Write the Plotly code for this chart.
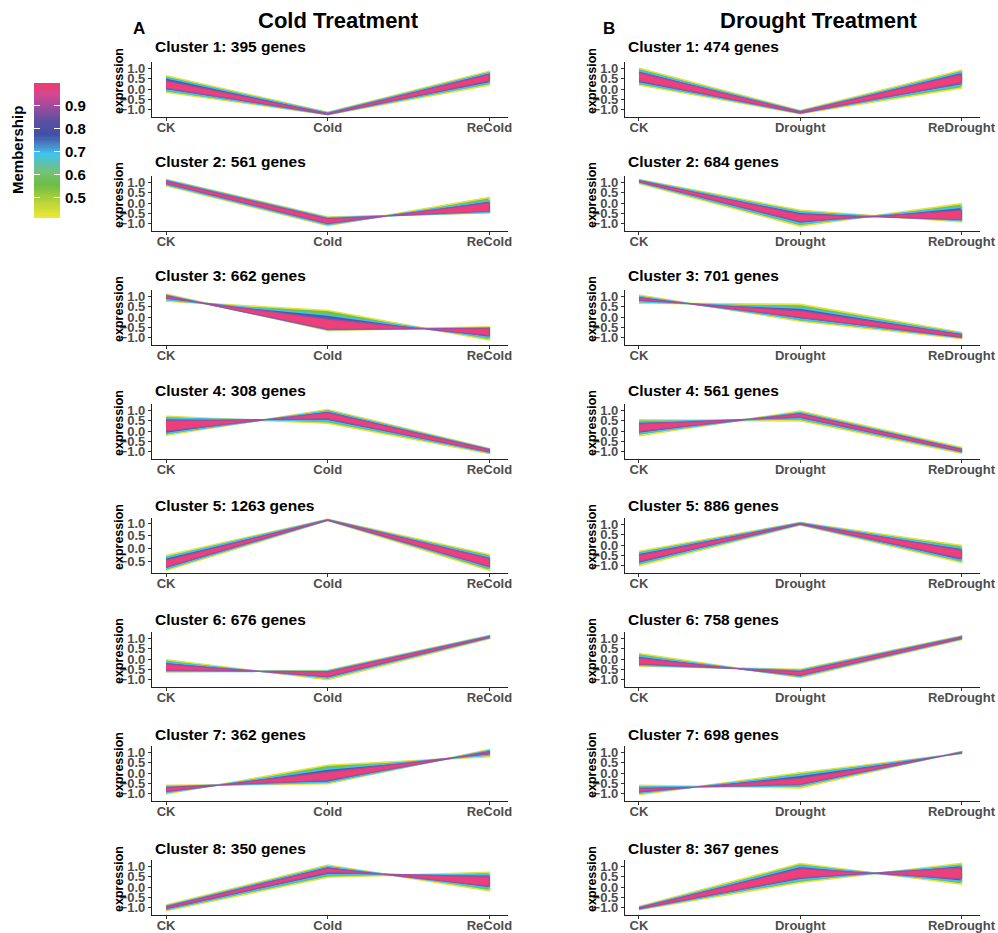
import plotly.graph_objects as go
import numpy as np

W, H = 998, 933

# ---------------- data ----------------
cold_stages = ["CK", "Cold", "ReCold"]
drought_stages = ["CK", "Drought", "ReDrought"]

cold_titles = ["Cluster 1: 395 genes", "Cluster 2: 561 genes", "Cluster 3: 662 genes",
               "Cluster 4: 308 genes", "Cluster 5: 1263 genes", "Cluster 6: 676 genes",
               "Cluster 7: 362 genes", "Cluster 8: 350 genes"]
drought_titles = ["Cluster 1: 474 genes", "Cluster 2: 684 genes", "Cluster 3: 701 genes",
                  "Cluster 4: 561 genes", "Cluster 5: 886 genes", "Cluster 6: 758 genes",
                  "Cluster 7: 698 genes", "Cluster 8: 367 genes"]

# boundary profiles (two extreme gene lines) per membership level: (lineA, lineB)
# levels: outer ~0.5, mid ~0.7, core ~0.95
cold_outer = [
    ([0.65, -1.13, 0.87], [-0.15, -1.25, 0.20]),
    ([1.15, -0.68, -0.48], [0.85, -1.10, 0.28]),
    ([1.12, -0.65, -0.48], [0.78, 0.32, -1.12]),
    ([-0.20, 1.05, -0.85], [0.72, 0.38, -1.10]),
    ([-0.27, 1.15, -0.23], [-0.85, 1.10, -0.85]),
    ([-0.62, -0.55, 1.15], [-0.03, -1.00, 1.00]),
    ([-0.60, -0.52, 1.15], [-1.02, 0.38, 0.80]),
    ([-0.88, 1.07, -0.18], [-1.15, 0.48, 0.72]),
]
cold_mid = [
    ([0.55, -1.15, 0.80], [-0.05, -1.24, 0.30]),
    ([1.12, -0.72, -0.45], [0.90, -1.05, 0.12]),
    ([1.08, -0.62, -0.52], [0.85, 0.10, -1.00]),
    ([-0.12, 0.98, -0.88], [0.62, 0.50, -1.05]),
    ([-0.35, 1.14, -0.32], [-0.78, 1.11, -0.75]),
    ([-0.60, -0.58, 1.13], [-0.15, -0.92, 1.03]),
    ([-0.65, -0.45, 1.10], [-0.95, 0.20, 0.88]),
    ([-0.92, 1.00, -0.05], [-1.10, 0.60, 0.60]),
]
cold_core = [
    ([0.40, -1.18, 0.72], [0.05, -1.23, 0.40]),
    ([1.08, -0.76, -0.40], [0.95, -1.00, 0.02]),
    ([1.05, -0.60, -0.55], [0.92, -0.10, -0.90]),
    ([0.00, 0.90, -0.90], [0.50, 0.60, -1.02]),
    ([-0.45, 1.13, -0.38], [-0.72, 1.12, -0.70]),
    ([-0.55, -0.62, 1.10], [-0.25, -0.85, 1.05]),
    ([-0.70, -0.35, 1.05], [-0.90, 0.05, 0.95]),
    ([-0.95, 0.92, 0.05], [-1.05, 0.70, 0.50]),
]

drought_outer = [
    ([1.02, -1.05, 0.92], [0.20, -1.20, 0.05]),
    ([1.15, -0.35, -0.92], [0.95, -1.12, -0.03]),
    ([1.08, -0.20, -1.05], [0.68, 0.62, -0.75]),
    ([-0.22, 0.97, -0.80], [0.55, 0.50, -1.08]),
    ([-0.30, 1.10, -0.02], [-1.00, 0.98, -0.85]),
    ([-0.35, -0.50, 1.12], [0.27, -0.90, 0.95]),
    ([-0.60, -0.72, 1.05], [-1.05, 0.02, 0.95]),
    ([-1.10, 0.22, 1.15], [-0.95, 1.15, 0.15]),
]
drought_mid = [
    ([0.90, -1.08, 0.82], [0.30, -1.18, 0.20]),
    ([1.12, -0.45, -0.85], [1.00, -1.00, -0.20]),
    ([1.00, -0.10, -1.00], [0.75, 0.45, -0.80]),
    ([-0.12, 0.90, -0.85], [0.45, 0.60, -1.02]),
    ([-0.40, 1.08, -0.15], [-0.90, 1.00, -0.75]),
    ([-0.30, -0.55, 1.10], [0.15, -0.85, 0.98]),
    ([-0.68, -0.62, 1.03], [-0.98, -0.10, 0.97]),
    ([-1.08, 0.35, 1.05], [-0.98, 1.02, 0.28]),
]
drought_core = [
    ([0.80, -1.10, 0.72], [0.40, -1.17, 0.30]),
    ([1.10, -0.55, -0.80], [1.03, -0.90, -0.35]),
    ([0.95, 0.00, -0.98], [0.82, 0.30, -0.85]),
    ([-0.02, 0.85, -0.88], [0.35, 0.68, -1.00]),
    ([-0.50, 1.06, -0.25], [-0.80, 1.02, -0.65]),
    ([-0.25, -0.60, 1.08], [0.05, -0.80, 1.00]),
    ([-0.75, -0.55, 1.02], [-0.92, -0.25, 0.98]),
    ([-1.06, 0.45, 0.95], [-1.00, 0.90, 0.40]),
]

membership_ticks = [0.5, 0.6, 0.7, 0.8, 0.9]
membership_range = [0.41, 1.0]

# ---------------- styling ----------------
colorscale = [
    [0.00, "#F2EA35"], [0.15, "#A9CF3A"], [0.25, "#6CBD45"], [0.35, "#74C17A"],
    [0.48, "#3EC3EF"], [0.55, "#4A80C4"], [0.62, "#3F51A3"], [0.72, "#5C4FA1"],
    [0.83, "#9E4C9D"], [0.92, "#D44890"], [1.00, "#EF3A6E"],
]
level_styles = [
    dict(fill="#72C044", line="#E4E23A", width=1.6),   # outer
    dict(fill="#4060AE", line="#3EC3EF", width=1.6),   # mid
    dict(fill="#EE3F7A", line="#A24D9D", width=1.2),   # core
]

FONT = "Liberation Sans, Arial, sans-serif"
TICKGREY = "#4D4D4D"
MINUS = "\u2212"

def px_x(x):
    return x / W

def px_y(y):
    return 1 - y / H

panel_pitch = 114.0
text_pitch = 114.5
panel_top0, panel_h = 62, 55
col_x = [(152, 508), (625, 980)]
xrange = [-0.0867, 2.115]

yranges_cold = [[-1.36, 1.32]] * 4 + [[-0.95, 1.2]] + [[-1.36, 1.32]] * 3
yranges_drought = [[-1.36, 1.32]] * 8
ytickvals = [-1.0, -0.5, 0.0, 0.5, 1.0]
yticktext = [f"{v:.1f}".replace("-", MINUS) for v in ytickvals]

fig = go.Figure()
annotations = []
layout_axes = {}

columns = [
    (cold_stages, cold_titles, [cold_outer, cold_mid, cold_core], yranges_cold),
    (drought_stages, drought_titles, [drought_outer, drought_mid, drought_core], yranges_drought),
]

idx = 0
for c, (stages, titles, levels, yranges) in enumerate(columns):
    x0p, x1p = col_x[c]
    for r in range(8):
        idx += 1
        xa = "x" if idx == 1 else f"x{idx}"
        ya = "y" if idx == 1 else f"y{idx}"
        top = panel_top0 + r * panel_pitch
        bot = top + panel_h
        xs = list(range(len(stages)))
        for lv, st in zip(levels, level_styles):
            A, B = lv[r]
            fig.add_trace(go.Scatter(
                x=xs + xs[::-1], y=A + B[::-1], mode="lines", fill="toself",
                fillcolor=st["fill"], line=dict(color=st["line"], width=st["width"]),
                xaxis=xa, yaxis=ya, hoverinfo="skip", showlegend=False))
        axis_common = dict(showgrid=False, zeroline=False, showline=True, linecolor="#222222",
                           linewidth=1.3, ticks="outside", ticklen=3, tickcolor="#333333",
                           automargin=False,
                           tickfont=dict(family=FONT, size=13, color=TICKGREY, weight="bold"))
        layout_axes["xaxis" if idx == 1 else f"xaxis{idx}"] = dict(
            domain=[px_x(x0p), px_x(x1p)], range=xrange, anchor=ya,
            tickmode="array", tickvals=xs, ticktext=stages, ticklabelstandoff=-5, **axis_common)
        ycommon = dict(axis_common)
        ycommon["tickfont"] = dict(family=FONT, size=13, color=TICKGREY, weight="bold")
        layout_axes["yaxis" if idx == 1 else f"yaxis{idx}"] = dict(
            domain=[px_y(bot), px_y(top)], range=yranges[r], anchor=xa,
            tickmode="array", tickvals=ytickvals, ticktext=yticktext, **ycommon)
        annotations.append(dict(
            text=titles[r], x=px_x(x0p + 1), y=px_y(47 + r * text_pitch), xref="paper", yref="paper",
            xanchor="left", yanchor="middle", showarrow=False,
            font=dict(family=FONT, size=15.5, color="black", weight="bold")))
        annotations.append(dict(
            text="expression", x=px_x(x0p - 33), y=px_y(81 + r * panel_pitch), xref="paper", yref="paper",
            xanchor="center", yanchor="middle", showarrow=False, textangle=-90,
            font=dict(family=FONT, size=12.5, color="black", weight="bold")))

for txt, x, y, size in [("Cold Treatment", 338, 20, 22), ("Drought Treatment", 818, 20, 22),
                        ("A", 139, 29, 17), ("B", 609, 29, 17)]:
    annotations.append(dict(text=txt, x=px_x(x), y=px_y(y), xref="paper", yref="paper",
                            xanchor="center", yanchor="middle", showarrow=False,
                            font=dict(family=FONT, size=size, color="black", weight="bold")))
annotations.append(dict(text="Membership", x=px_x(18), y=px_y(150), xref="paper", yref="paper",
                        xanchor="center", yanchor="middle", showarrow=False, textangle=-90,
                        font=dict(family=FONT, size=15, color="black", weight="bold")))

# colour bar (membership) drawn as a thin heat strip on its own axes
cb_levels = np.linspace(membership_range[0], membership_range[1], 120)
idx += 1
fig.add_trace(go.Heatmap(
    z=[[v] for v in cb_levels], x=[0], y=cb_levels, colorscale=colorscale,
    zmin=membership_range[0], zmax=membership_range[1], showscale=False, zsmooth="best",
    xaxis=f"x{idx}", yaxis=f"y{idx}", hoverinfo="skip"))
layout_axes[f"xaxis{idx}"] = dict(domain=[px_x(34), px_x(60)], range=[-0.5, 0.5], anchor=f"y{idx}",
                                  visible=False, fixedrange=True, automargin=False)
layout_axes[f"yaxis{idx}"] = dict(domain=[px_y(218), px_y(83)], range=membership_range,
                                  anchor=f"x{idx}", side="right", showgrid=False, zeroline=False,
                                  showline=False, ticks="inside", ticklen=6, tickwidth=1,
                                  tickcolor="white", mirror="ticks", tickmode="array",
                                  tickvals=membership_ticks, automargin=False,
                                  ticktext=[f"{v:.1f}" for v in membership_ticks],
                                  ticklabelstandoff=4,
                                  tickfont=dict(family=FONT, size=15, color="black", weight="bold"))

fig.update_layout(autosize=False, width=W, height=H, margin=dict(l=0, r=0, t=0, b=0),
                  paper_bgcolor="white", plot_bgcolor="white",
                  annotations=annotations, **layout_axes)

fig.write_html("out.html", config={"displayModeBar": False},
               post_script="document.body.style.margin='0';document.body.style.overflow='hidden';")
